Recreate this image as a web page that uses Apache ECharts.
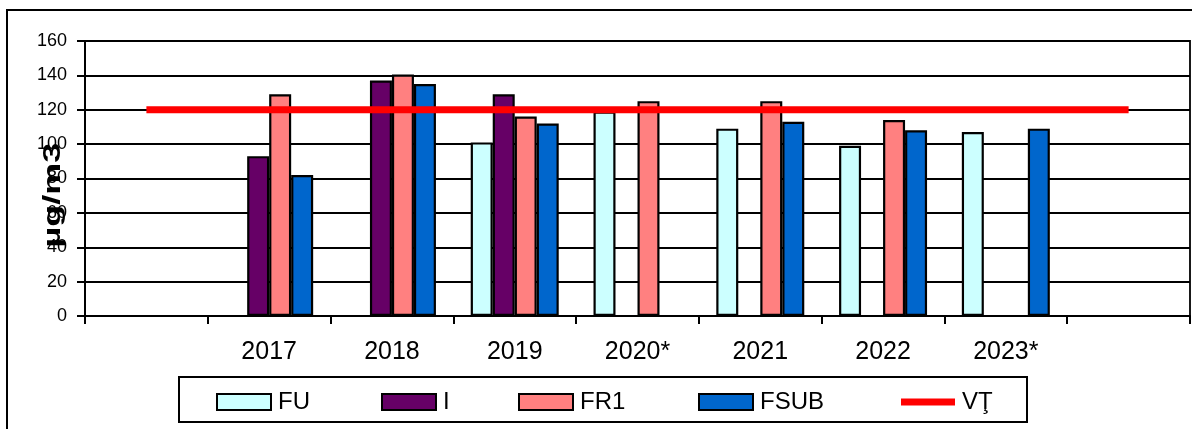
<!DOCTYPE html>
<html>
<head>
<meta charset="utf-8">
<script src="https://cdn.jsdelivr.net/npm/echarts@6/dist/echarts.min.js"></script>
<style>
html,body{margin:0;padding:0;background:#fff;}
#chart{width:1192px;height:429px;}
</style>
</head>
<body>
<div id="chart"></div>
<script>
const categories = ["", "2017", "2018", "2019", "2020*", "2021", "2022", "2023*", ""];
const FU   = [null, null, null, 101, 119, 109, 99, 107, null];
const I    = [null, 93, 137, 129, null, null, null, null, null];
const FR1  = [null, 129, 140.5, 116, 125, 125, 114, null, null];
const FSUB = [null, 82, 135, 112, null, 113, 108, 109, null];
const VT   = [120, 120, 120, 120, 120, 120, 120, 120, 120];
const yTicks = { min: 0, max: 160, interval: 20 };
const yTitle = "µg/m3";

const chart = echarts.init(document.getElementById('chart'), null, {renderer: 'canvas'});
const font = "Liberation Sans, Arial, sans-serif";

function barSeries(name, data, color) {
  return {
    name: name, type: 'bar', data: data, barWidth: 22, barGap: '0%',
    itemStyle: { color: color, borderColor: '#000', borderWidth: 2.2 },
    emphasis: { disabled: true }, animation: false
  };
}

function legendItem(name, left, extra) {
  return Object.assign({
    data: [name], left: left, top: 390, orient: 'horizontal',
    itemWidth: 54, itemHeight: 16, icon: 'rect', itemGap: 0, padding: 0,
    selectedMode: false,
    itemStyle: { borderColor: '#000', borderWidth: 2 },
    textStyle: { fontFamily: font, fontSize: 24, color: '#000', lineHeight: 16, padding: [0, 0, 0, 2] }
  }, extra || {});
}

const option = {
  backgroundColor: '#fff',
  animation: false,
  grid: { left: 85, right: 2, top: 41, bottom: 113, show: true, borderColor: '#000', borderWidth: 1.8 },
  xAxis: {
    type: 'category', data: categories, boundaryGap: true,
    axisLine: { lineStyle: { color: '#000', width: 2 } },
    axisTick: { show: true, alignWithLabel: false, length: 8, lineStyle: { color: '#000', width: 2 } },
    axisLabel: { fontFamily: font, fontSize: 25, color: '#000', margin: 24, interval: 0 },
    splitLine: { show: false }
  },
  yAxis: {
    type: 'value', min: yTicks.min, max: yTicks.max, interval: yTicks.interval,
    axisLine: { show: true, lineStyle: { color: '#000', width: 2 } },
    axisTick: { show: true, length: 8, lineStyle: { color: '#000', width: 2 } },
    axisLabel: { fontFamily: font, fontSize: 18, color: '#000', margin: 18 },
    splitLine: { show: true, lineStyle: { color: '#000', width: 1.8 } }
  },
  legend: [
    legendItem('FU', 216),
    legendItem('I', 381),
    legendItem('FR1', 518),
    legendItem('FSUB', 698),
    legendItem('VŢ', 901, { itemHeight: 7, itemStyle: { color: '#FF0000', borderWidth: 0 } })
  ],
  series: [
    barSeries('FU', FU, '#CCFFFF'),
    barSeries('I', I, '#660066'),
    barSeries('FR1', FR1, '#FF8080'),
    barSeries('FSUB', FSUB, '#0066CC'),
    {
      name: 'VŢ', type: 'line', data: VT, showSymbol: false, symbol: 'none',
      lineStyle: { color: '#FF0000', width: 7 }, itemStyle: { color: '#FF0000' },
      emphasis: { disabled: true }, z: 5
    }
  ],
  graphic: [
    { type: 'polyline', shape: { points: [[7, 429], [7, 10], [1192, 10]] },
      style: { stroke: '#000', lineWidth: 2, fill: null }, silent: true },
    { type: 'rect', shape: { x: 179, y: 377, width: 848, height: 45 },
      style: { stroke: '#000', lineWidth: 2, fill: null }, silent: true },
    { type: 'text', x: 53, y: 195, rotation: Math.PI / 2, scaleX: 1.5, scaleY: 1,
      style: { text: yTitle, fontFamily: font, fontWeight: 'bold', fontSize: 24, fill: '#000',
               textAlign: 'center', textVerticalAlign: 'middle' }, silent: true, z: 10 }
  ]
};
chart.setOption(option);
</script>
</body>
</html>
